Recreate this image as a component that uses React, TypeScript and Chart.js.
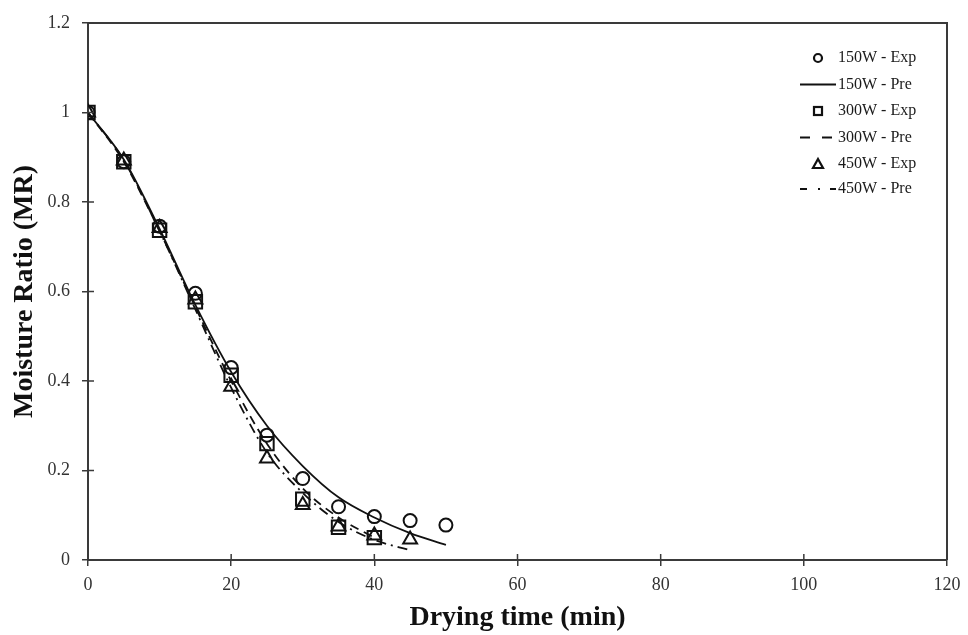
import React, { useEffect, useRef } from "react";
import { Chart, registerables } from "chart.js";

Chart.register(...registerables);

// ---- data ----
const time150 = [0, 5, 10, 15, 20, 25, 30, 35, 40, 45, 50];
const exp150 = [1, 0.89, 0.746, 0.596, 0.43, 0.279, 0.182, 0.119, 0.097, 0.088, 0.078];
const pred150 = [1, 0.895, 0.74, 0.57, 0.42, 0.3, 0.21, 0.14, 0.095, 0.06, 0.034];

const time300 = [0, 5, 10, 15, 20, 25, 30, 35, 40];
const exp300 = [1, 0.89, 0.737, 0.577, 0.413, 0.26, 0.136, 0.073, 0.05];
const pred300 = [1, 0.89, 0.735, 0.565, 0.4, 0.26, 0.16, 0.095, 0.05];

const time450 = [0, 5, 10, 15, 20, 25, 30, 35, 40, 45];
const exp450 = [1, 0.893, 0.742, 0.582, 0.387, 0.227, 0.123, 0.075, 0.055, 0.046];
const pred450 = [1, 0.893, 0.735, 0.56, 0.385, 0.24, 0.15, 0.085, 0.045, 0.022];

const xTicks = [0, 20, 40, 60, 80, 100, 120];
const yTicks = [0, 0.2, 0.4, 0.6, 0.8, 1, 1.2];

const legendLabels = [
  "150W - Exp",
  "150W - Pre",
  "300W - Exp",
  "300W - Pre",
  "450W - Exp",
  "450W - Pre",
];

const AXIS = "#3a3a3a";
const SERIF = "'Liberation Serif', 'Times New Roman', serif";

const pts = (xs: number[], ys: number[]) => xs.map((x, i) => ({ x, y: ys[i] }));

const frameAndTicks = {
  id: "frameAndTicks",
  afterDraw(chart: any) {
    const { ctx, chartArea } = chart;
    const { left, right, top, bottom } = chartArea;
    ctx.save();
    ctx.strokeStyle = AXIS;
    ctx.lineWidth = 2;
    ctx.beginPath();
    ctx.moveTo(left, top);
    ctx.lineTo(right, top);
    ctx.lineTo(right, bottom);
    ctx.stroke();
    ctx.lineWidth = 1.5;
    const xs = chart.scales.x;
    const ys = chart.scales.y;
    ctx.beginPath();
    xTicks.forEach((v) => {
      const px = xs.getPixelForValue(v);
      ctx.moveTo(px, bottom);
      ctx.lineTo(px, bottom - 6);
    });
    yTicks.forEach((v) => {
      const py = ys.getPixelForValue(v);
      ctx.moveTo(left, py);
      ctx.lineTo(left + 6, py);
    });
    ctx.stroke();
    ctx.restore();
  },
};

const customLegend = {
  id: "customLegend",
  afterDraw(chart: any) {
    const { ctx, chartArea } = chart;
    const right = chartArea.right;
    const top = chartArea.top;
    const lineX0 = right - 147;
    const lineX1 = right - 111;
    const markX = right - 129;
    const textX = right - 109;
    const rows = [35, 61.5, 88, 114.5, 141, 166];
    ctx.save();
    ctx.fillStyle = "#1a1a1a";
    ctx.strokeStyle = "#111";
    ctx.font = `16px ${SERIF}`;
    ctx.textBaseline = "middle";
    ctx.textAlign = "left";
    rows.forEach((r, i) => {
      const y = top + r;
      ctx.save();
      ctx.lineWidth = 2.2;
      ctx.strokeStyle = "#111";
      if (i === 0) {
        ctx.beginPath();
        ctx.arc(markX, y, 4, 0, Math.PI * 2);
        ctx.stroke();
      } else if (i === 2) {
        ctx.strokeRect(markX - 4, y - 4, 8, 8);
      } else if (i === 4) {
        ctx.beginPath();
        ctx.moveTo(markX, y - 5);
        ctx.lineTo(markX + 5, y + 4);
        ctx.lineTo(markX - 5, y + 4);
        ctx.closePath();
        ctx.stroke();
      } else {
        ctx.lineWidth = 2;
        if (i === 3) ctx.setLineDash([10, 12]);
        if (i === 5) ctx.setLineDash([7, 11, 2, 10]);
        ctx.beginPath();
        ctx.moveTo(lineX0, y);
        ctx.lineTo(lineX1, y);
        ctx.stroke();
      }
      ctx.restore();
      ctx.fillText(legendLabels[i], textX, y);
    });
    ctx.restore();
  },
};

export default function App() {
  const ref = useRef<HTMLCanvasElement | null>(null);

  useEffect(() => {
    if (!ref.current) return;
    const marker = (label: string, data: any, style: string, radius: number) => ({
      label,
      data,
      showLine: false,
      pointStyle: style,
      pointRadius: radius,
      pointBorderWidth: 2,
      pointBorderColor: "#111",
      pointBackgroundColor: "rgba(0,0,0,0)",
      borderColor: "#111",
      backgroundColor: "rgba(0,0,0,0)",
    });
    const line = (label: string, data: any, dash: number[]) => ({
      label,
      data,
      showLine: true,
      pointRadius: 0,
      borderColor: "#111",
      borderWidth: 1.8,
      borderDash: dash,
      cubicInterpolationMode: "monotone",
      backgroundColor: "rgba(0,0,0,0)",
      fill: false,
    });

    const chart = new Chart(ref.current, {
      type: "scatter",
      data: {
        datasets: [
          marker(legendLabels[0], pts(time150, exp150), "circle", 6.5),
          marker(legendLabels[2], pts(time300, exp300), "rect", 9.5),
          marker(legendLabels[4], pts(time450, exp450), "triangle", 8),
          line(legendLabels[1], pts(time150, pred150), []),
          line(legendLabels[3], pts(time300, pred300), [9, 6]),
          line(legendLabels[5], pts(time450, pred450), [10, 5, 2, 5]),
        ] as any,
      },
      options: {
        animation: false,
        responsive: false,
        maintainAspectRatio: false,
        layout: { padding: { top: 15, right: 13, left: 0, bottom: 0 } },
        plugins: {
          legend: { display: false },
          tooltip: { enabled: false },
        },
        scales: {
          x: {
            type: "linear",
            min: 0,
            max: 120,
            afterFit: (s: any) => {
              s.height = 75;
              s.paddingLeft = 0;
              s.paddingRight = 0;
            },
            afterBuildTicks: (s: any) => {
              s.ticks = xTicks.map((v) => ({ value: v }));
            },
            ticks: {
              color: "#333",
              padding: 8,
              font: { family: SERIF, size: 18 },
              callback: (v: any) => String(v),
            },
            grid: {
              drawOnChartArea: false,
              drawTicks: true,
              tickLength: 6,
              color: AXIS,
              lineWidth: 1.5,
            },
            border: { display: true, color: AXIS, width: 2 },
            title: {
              display: true,
              text: "Drying time (min)",
              color: "#111",
              font: { family: SERIF, size: 28, weight: "bold" },
              padding: { top: 0, bottom: 0 },
            },
          },
          y: {
            type: "linear",
            min: 0,
            max: 1.2,
            afterFit: (s: any) => {
              s.width = 80;
              s.paddingTop = 0;
              s.paddingBottom = 0;
            },
            afterBuildTicks: (s: any) => {
              s.ticks = yTicks.map((v) => ({ value: v }));
            },
            ticks: {
              color: "#333",
              padding: 12,
              font: { family: SERIF, size: 18 },
              callback: (v: any) => String(Number(Number(v).toFixed(1))),
            },
            grid: {
              drawOnChartArea: false,
              drawTicks: true,
              tickLength: 6,
              color: AXIS,
              lineWidth: 1.5,
            },
            border: { display: true, color: AXIS, width: 2 },
            title: {
              display: true,
              text: "Moisture Ratio (MR)",
              color: "#111",
              font: { family: SERIF, size: 28, weight: "bold" },
              padding: { top: 0, bottom: 0 },
            },
          },
        },
      } as any,
      plugins: [frameAndTicks, customLegend],
    });
    return () => chart.destroy();
  }, []);

  return (
    <div style={{ width: 952, height: 627 }}>
      <canvas ref={ref} width={952} height={627} style={{ display: "block" }} />
    </div>
  );
}
